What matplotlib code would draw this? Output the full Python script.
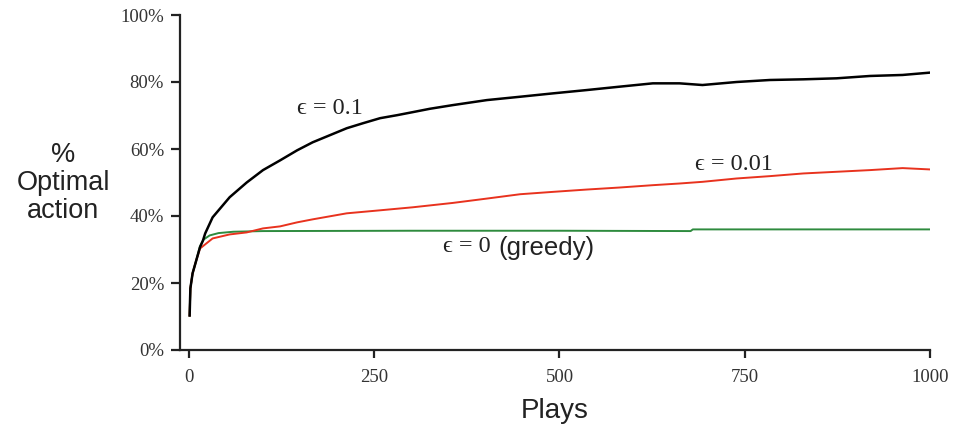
import matplotlib
matplotlib.use("Agg")
import matplotlib.pyplot as plt

# ---- data ----
plays_01 = [1, 2, 5, 10, 15, 19, 22, 32, 55, 78, 100, 123, 146, 167, 190, 213, 235, 258,
            281, 302, 325, 356, 402, 447, 491, 537, 581, 626, 662, 693, 739, 784, 829,
            874, 919, 963, 1000]
opt_01 = [10.3, 18.4, 22.9, 26.8, 30.7, 32.7, 34.8, 39.6, 45.6, 50.0, 53.7, 56.6, 59.6,
          62.0, 64.1, 66.2, 67.7, 69.2, 70.1, 71.0, 72.0, 73.1, 74.6, 75.6, 76.6, 77.6,
          78.6, 79.6, 79.6, 79.1, 80.0, 80.6, 80.8, 81.1, 81.8, 82.1, 82.8]

plays_001 = [1, 2, 5, 10, 15, 32, 55, 78, 100, 123, 146, 167, 190, 213, 258, 302, 356,
             402, 447, 491, 537, 581, 626, 662, 693, 739, 784, 829, 874, 919, 963, 1000]
opt_001 = [10.3, 18.4, 22.9, 26.8, 30.3, 33.3, 34.5, 35.1, 36.3, 36.9, 38.1, 39.0, 39.9,
           40.8, 41.7, 42.6, 43.9, 45.2, 46.5, 47.2, 47.9, 48.5, 49.2, 49.7, 50.2, 51.2,
           51.9, 52.7, 53.2, 53.7, 54.3, 53.9]

plays_0 = [1, 2, 5, 10, 15, 20, 28, 40, 60, 100, 300, 500, 677, 680, 800, 1000]
opt_0 = [10.3, 18.4, 22.9, 26.8, 31.0, 33.0, 34.2, 34.9, 35.3, 35.5, 35.6, 35.6, 35.5,
         36.0, 36.0, 36.0]

x_ticks = [0, 250, 500, 750, 1000]
y_ticks = [0, 20, 40, 60, 80, 100]
y_tick_labels = ["0%", "20%", "40%", "60%", "80%", "100%"]

serif = ["Liberation Serif", "DejaVu Serif"]
sans = ["Liberation Sans", "DejaVu Sans"]

fig = plt.figure(figsize=(9.61, 4.26), dpi=100)
ax = fig.add_axes([180 / 961, 76 / 426, 750 / 961, 335 / 426])

ax.plot(plays_0, opt_0, color="#2e8b3e", lw=1.4, zorder=2)
ax.plot(plays_001, opt_001, color="#e8321e", lw=1.4, zorder=3)
ax.plot(plays_01, opt_01, color="black", lw=1.8, zorder=4)

ax.set_xlim(-12, 1000)
ax.set_ylim(0, 100)
ax.set_xticks(x_ticks)
ax.set_xticklabels([str(t) for t in x_ticks], family=serif, fontsize=13.5, color="#333333")
ax.set_yticks(y_ticks)
ax.set_yticklabels(y_tick_labels, family=serif, fontsize=13.5, color="#333333")
ax.tick_params(axis="y", direction="out", length=6.5, width=1.6, color="#222222", pad=5)
ax.tick_params(axis="x", direction="out", length=6, width=1.6, color="#222222", pad=8)

for s in ["top", "right"]:
    ax.spines[s].set_visible(False)
for s in ["left", "bottom"]:
    ax.spines[s].set_linewidth(1.6)
    ax.spines[s].set_color("#222222")

ax.set_xlabel("Plays", family=sans, fontsize=20, color="#222222", labelpad=8)
fig.text(63 / 961, 1 - 183 / 426, "%\nOptimal\naction", family=sans, fontsize=19.5,
         color="#222222", ha="center", va="center", linespacing=1.12)

ax.text(146, 72.2, "ϵ = 0.1", family=serif, fontsize=17.5, color="#222222",
        ha="left", va="center")
ax.text(683, 55.4, "ϵ = 0.01", family=serif, fontsize=17.5, color="#222222",
        ha="left", va="center")
ax.text(343, 30.8, "ϵ = 0", family=serif, fontsize=17.5, color="#222222",
        ha="left", va="center")
ax.text(418, 30.4, "(greedy)", family=sans, fontsize=18.5, color="#222222",
        ha="left", va="center")

fig.savefig("out.png", dpi=100, facecolor="white")
